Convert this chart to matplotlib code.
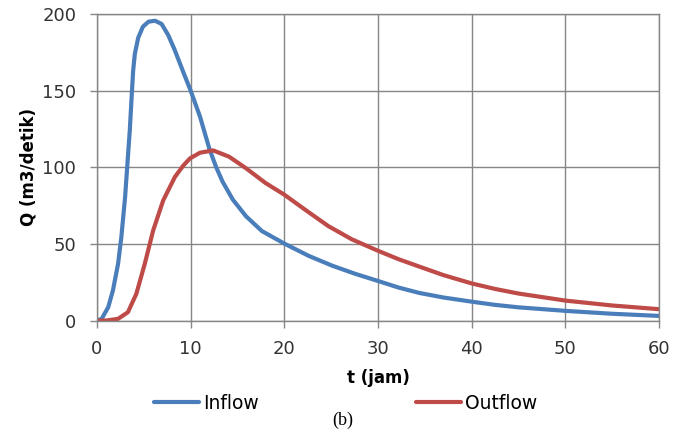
import matplotlib
matplotlib.use("Agg")
import matplotlib.pyplot as plt

# Hidrograf inflow
t_inflow = [0, 0.5, 1.2, 1.7, 2.25, 2.6, 3.0, 3.3, 3.5, 3.7, 3.86, 4.04, 4.4,
            4.9, 5.5, 6.2, 6.9, 7.6, 8.3, 9.2, 10.0, 11.0, 12.0, 12.7, 13.4,
            14.5, 15.9, 17.6, 20.0, 22.6, 25.1, 27.6, 30, 32.2, 34.4, 37,
            40, 42.5, 45, 50, 55, 60]
q_inflow = [0, 1.1, 8.7, 19.6, 37, 54.4, 80.6, 106.7, 124, 146, 163, 174,
            184.5, 191.7, 195, 195.6, 193.5, 186.3, 176.5, 162.3, 150, 133,
            112, 100.4, 90.7, 78.9, 68.1, 58.4, 50.2, 42.2, 35.8, 30.4, 25.8,
            21.5, 18.0, 15.0, 12.3, 10.2, 8.6, 6.3, 4.4, 3.0]

# Hidrograf outflow
t_outflow = [0, 1, 2.25, 3.3, 4.2, 5.1, 6.0, 7.07, 8.32, 9.2, 9.93, 11.0,
             12.4, 14.1, 15.9, 18.0, 20.0, 22.2, 24.7, 27.2, 30, 32.2, 34.4,
             37, 40, 42.5, 45, 50, 55, 60]
q_outflow = [0, 0, 1.1, 5.4, 17.4, 37, 58.8, 78.4, 93.7, 101, 105.8, 109.5,
             111, 106.9, 99.4, 89.7, 82.1, 72.4, 61.6, 53, 45.5, 40, 35.2,
             29.6, 24.2, 20.6, 17.6, 13, 9.8, 7.4]

x_ticks = [0, 10, 20, 30, 40, 50, 60]
y_ticks = [0, 50, 100, 150, 200]

warna_grid = "#868686"

fig = plt.figure(figsize=(6.85, 4.34), dpi=100)
ax = fig.add_axes([0.1416, 0.2615, 0.8204, 0.7062])

ax.plot(t_inflow, q_inflow, color="#4A7EBB", lw=3, label="Inflow",
        solid_capstyle="round", solid_joinstyle="round")
ax.plot(t_outflow, q_outflow, color="#BE4B48", lw=3, label="Outflow",
        solid_capstyle="round", solid_joinstyle="round")

ax.set_xlim(0, 60)
ax.set_ylim(0, 200)
ax.set_xticks(x_ticks)
ax.set_yticks(y_ticks)
ax.grid(True, color=warna_grid, lw=1)
ax.set_axisbelow(True)
for s in ax.spines.values():
    s.set_color(warna_grid)
    s.set_linewidth(1)
ax.tick_params(length=5, width=1, color=warna_grid, labelsize=13,
               labelcolor="#333333")
ax.tick_params(axis="x", pad=9)
ax.tick_params(axis="y", pad=10)

ax.set_xlabel("t (jam)", fontsize=12, fontweight="bold", labelpad=8)
ax.set_ylabel("Q (m3/detik)", fontsize=12, fontweight="bold", labelpad=6)
ax.yaxis.set_label_coords(-0.105, 0.5)

fig.legend(loc="center", bbox_to_anchor=(0.505, 0.071), ncol=2, frameon=False,
           fontsize=13.5, handlelength=2.4, handletextpad=0.2,
           columnspacing=8.4)
fig.text(0.5, 0.032, "(b)", ha="center", va="center", fontsize=13,
         family="Liberation Serif")

fig.savefig("out.png", dpi=100)
